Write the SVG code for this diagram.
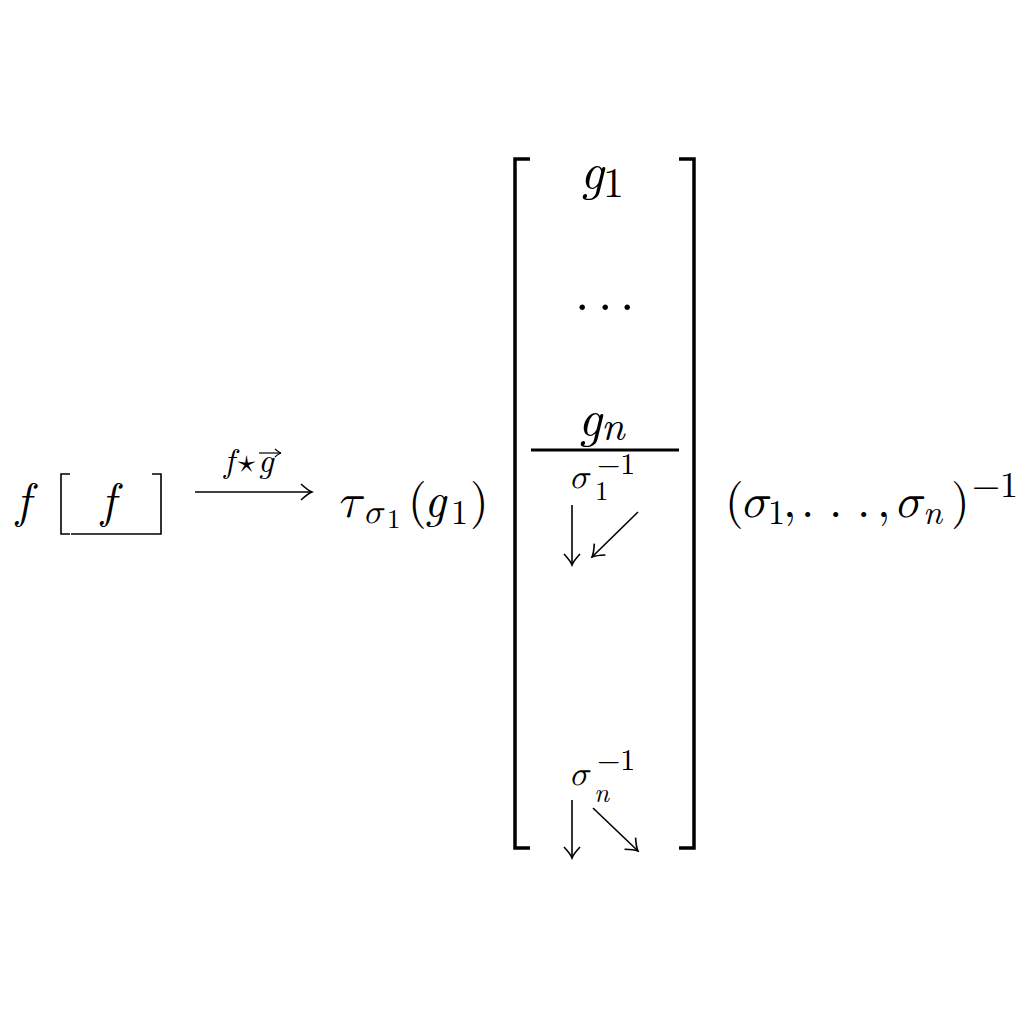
<svg xmlns="http://www.w3.org/2000/svg" width="1024" height="1024" viewBox="0 0 1024 1024">
<defs>
<style>
text{fill:#000;font-family:Latin Modern Roman, Latin Modern Math, Liberation Serif, serif}
.i{font-style:italic}
.m{font-size:48px}
.b{font-size:52px}
.bs{font-size:42px}
.s{font-size:34px}
.ss{font-size:27px}
.sp{font-size:30px}
.ln{stroke:#000;fill:none;stroke-width:1.6}
.br{stroke:#000;fill:none;stroke-width:3.5}
</style>
<marker id="ah" viewBox="-14 -9 16 18" markerWidth="16" markerHeight="18" refX="0" refY="0" orient="auto" markerUnits="userSpaceOnUse">
<path d="M-11,-8 Q-4,-1.5 0,0 Q-4,1.5 -11,8" stroke="#000" stroke-width="1.6" fill="none"/>
</marker>
<marker id="ahs" viewBox="-8 -5 10 10" markerWidth="10" markerHeight="10" refX="0" refY="0" orient="auto" markerUnits="userSpaceOnUse">
<path d="M-6,-4 Q-2,-0.5 0,0 Q-2,0.5 -6,4" stroke="#000" stroke-width="1.2" fill="none"/>
</marker>
</defs>
<rect width="1024" height="1024" fill="#fff"/>
<g font-family="Latin Modern Roman, Latin Modern Math, Liberation Serif, serif">

<g id="left">
<text class="m i" x="16" y="517">f</text>
<path class="ln" d="M70,474 H61 V534 H70"/>
<path class="ln" d="M71,534 H152"/>
<path class="ln" d="M152,474 H161 V534 H152"/>
<text class="m i" x="101" y="517">f</text>
</g>

<g id="arrow-label">
<text class="s i" x="224" y="472">f</text>
<text class="s" x="238" y="472">⋆</text>
<text class="s i" x="258" y="472">g</text>
<path d="M259,453 H281" stroke="#000" stroke-width="1.2" fill="none" marker-end="url(#ahs)"/>
</g>

<g id="tau">
<text class="m i" x="337" y="517">τ</text>
<text class="s i" x="363" y="523">σ</text>
<text class="ss" x="387" y="528">1</text>
<text class="m" x="408" y="517">(</text>
<text class="m i" x="424" y="517">g</text>
<text class="s" x="451" y="524">1</text>
<text class="m" x="470" y="517">)</text>
</g>

<g id="matrix">
<path class="br" d="M530,159 H515 V848 H530"/>
<path class="br" d="M679,159 H694 V848 H679"/>
<text class="b i" x="580" y="189">g</text>
<text class="bs" x="603" y="197">1</text>
<text class="b" x="575 598 620" y="310">...</text>
<text class="b i" x="578" y="436">g</text>
<text class="bs i" x="601" y="440">n</text>
<path d="M531,450 H679" stroke="#000" stroke-width="3"/>
<text class="s i" x="569" y="488">σ</text>
<text class="sp" x="597" y="474">−1</text>
<text class="ss" x="595" y="500">1</text>
<text class="s i" x="569" y="785">σ</text>
<text class="sp" x="597" y="770">−1</text>
<text class="ss i" x="594" y="802">n</text>
</g>

<g id="tuple">
<text class="m" x="725" y="517">(</text>
<text class="m i" x="740" y="517">σ</text>
<text class="s" x="768" y="524">1</text>
<text class="m" x="783" y="517">,</text>
<text class="m" x="801 829 857" y="517">...</text>
<text class="m" x="877" y="517">,</text>
<text class="m i" x="894" y="517">σ</text>
<text class="s i" x="923" y="524">n</text>
<text class="m" x="951" y="517">)</text>
<text class="sp" x="972" y="497" style="font-size:36px">−1</text>
</g>

<g id="connectors">
<path class="ln" d="M195,492 H312" marker-end="url(#ah)"/>
<path class="ln" d="M572,505 V565" marker-end="url(#ah)"/>
<path class="ln" d="M638,512 L592,557" marker-end="url(#ah)"/>
<path class="ln" d="M572,800 V858" marker-end="url(#ah)"/>
<path class="ln" d="M593,808 L638,851" marker-end="url(#ah)"/>
</g>
</g>
</svg>
